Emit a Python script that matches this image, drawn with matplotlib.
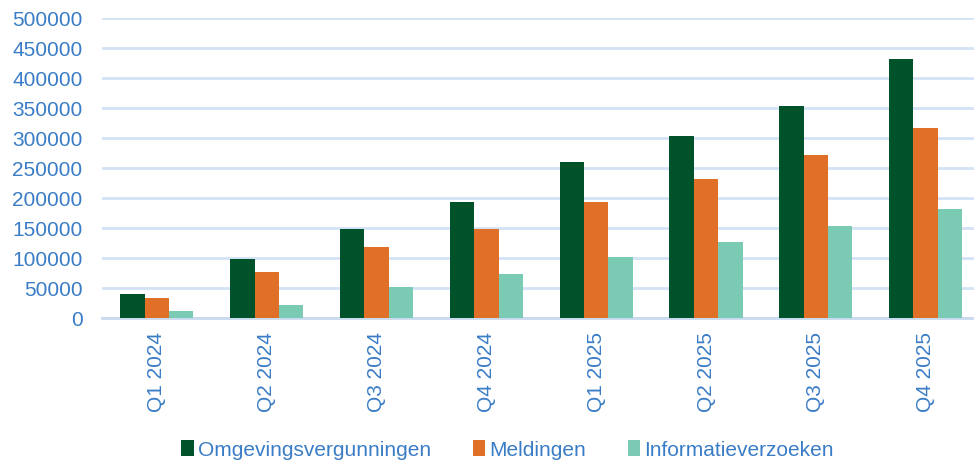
import matplotlib

matplotlib.use("Agg")
import matplotlib.pyplot as plt
import numpy as np

quarters = ["Q1 2024", "Q2 2024", "Q3 2024", "Q4 2024",
            "Q1 2025", "Q2 2025", "Q3 2025", "Q4 2025"]
omgevingsvergunningen = [40000, 99000, 148000, 194000, 260000, 303000, 354000, 432000]
meldingen = [33000, 77000, 119000, 148000, 194000, 231000, 272000, 316000]
informatieverzoeken = [12000, 22000, 52000, 74000, 102000, 127000, 153000, 182000]

series = [
    ("Omgevingsvergunningen", omgevingsvergunningen, "#00522A"),
    ("Meldingen", meldingen, "#E07028"),
    ("Informatieverzoeken", informatieverzoeken, "#7BCAB4"),
]

TEXT_BLUE = "#3A7CC6"
GRID_BLUE = "#D3E2F5"

plt.rcParams["font.family"] = ["Liberation Sans", "DejaVu Sans"]

fig = plt.figure(figsize=(9.74, 4.62), dpi=100)
ax = fig.add_axes([102 / 974, 144 / 462, 872 / 974, 300 / 462])

x = np.arange(len(quarters))
w = 0.222
for i, (name, vals, color) in enumerate(series):
    ax.bar(x + (i - 1) * w, vals, width=w, color=color, label=name, zorder=3)

ax.set_xlim(-0.5, 7.44)
ax.set_ylim(0, 500000)
ax.set_yticks(np.arange(0, 500001, 50000))
ax.set_yticklabels([f"{v:d}" for v in range(0, 500001, 50000)])
ax.set_xticks(x)
ax.set_xticklabels(quarters, rotation=90)

ax.yaxis.grid(True, color=GRID_BLUE, linewidth=2, zorder=0)
for side in ["top", "right", "left"]:
    ax.spines[side].set_visible(False)
ax.spines["bottom"].set_color("#C9D9EE")
ax.spines["bottom"].set_linewidth(2)
ax.tick_params(axis="both", length=0, labelsize=15, colors=TEXT_BLUE)
ax.tick_params(axis="y", pad=14)
ax.tick_params(axis="x", pad=10)

fig.legend(loc="center", bbox_to_anchor=(0.521, 12 / 462), ncol=3,
           frameon=False, fontsize=15, labelcolor=TEXT_BLUE,
           handlelength=0.6, handleheight=0.8, handletextpad=0.2,
           columnspacing=2.0)

fig.savefig("out.png", dpi=100)
